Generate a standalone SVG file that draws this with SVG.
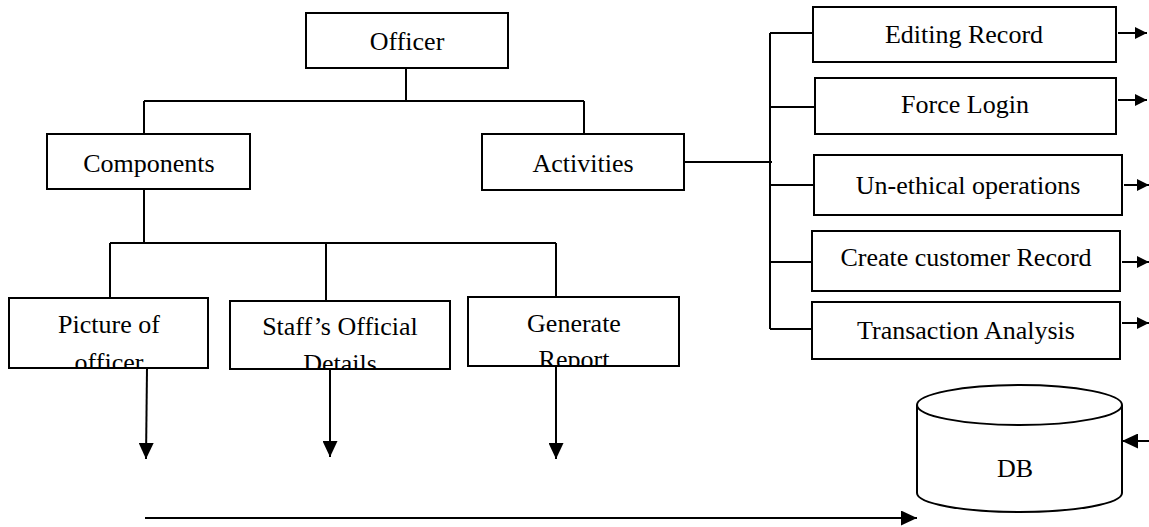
<svg xmlns="http://www.w3.org/2000/svg" width="1149" height="527" viewBox="0 0 1149 527">
<style>
.box{fill:#fff;stroke:#000;stroke-width:2}
.t{font-family:"Liberation Serif","Times New Roman",serif;font-size:26px;fill:#000;text-anchor:middle}
.c{fill:none;stroke:#000;stroke-width:2}
</style>
<defs>
<marker id="aL" markerWidth="16" markerHeight="15" refX="16" refY="7.5" orient="auto" markerUnits="userSpaceOnUse"><path d="M0,0 L16,7.5 L0,15 z" fill="#000"/></marker>
<marker id="aS" markerWidth="12" markerHeight="12" refX="12" refY="6" orient="auto" markerUnits="userSpaceOnUse"><path d="M0,0 L12,6 L0,12 z" fill="#000"/></marker>
<clipPath id="cp1"><rect x="10" y="299" width="197" height="68"/></clipPath>
<clipPath id="cp2"><rect x="231" y="302" width="218" height="66"/></clipPath>
<clipPath id="cp3"><rect x="469" y="298" width="209" height="67"/></clipPath>
</defs>
<g id="connectors">
<path class="c" d="M406,67 V101 M144,101 H584 M144,101 V134 M584,101 V134"/>
<path class="c" d="M144,189 V243 M110,243 H556 M110,243 V298 M326,243 V301 M556,243 V297"/>
<path class="c" d="M684,162 H772 M770,33 V329 M770,33 H813 M770,107 H815 M770,185 H814 M770,262 H812 M770,329 H812"/>
<path class="c" d="M1118,33 H1147" marker-end="url(#aS)"/>
<path class="c" d="M1118,100 H1147" marker-end="url(#aS)"/>
<path class="c" d="M1124,185 H1149" marker-end="url(#aS)"/>
<path class="c" d="M1122,262 H1149" marker-end="url(#aS)"/>
<path class="c" d="M1122,323 H1149" marker-end="url(#aS)"/>
<path class="c" d="M147,368 L146,459" marker-end="url(#aL)"/>
<path class="c" d="M330,370 V457" marker-end="url(#aL)"/>
<path class="c" d="M556,366 V459" marker-end="url(#aL)"/>
<path class="c" d="M145,518 H917" marker-end="url(#aL)"/>
<path class="c" d="M1149,441 H1122" marker-end="url(#aL)"/>
</g>
<g id="officer"><rect class="box" x="306" y="13" width="202" height="55"/><text class="t" x="407" y="50">Officer</text></g>
<g id="components"><rect class="box" x="47" y="134" width="203" height="55"/><text class="t" x="149" y="172">Components</text></g>
<g id="activities"><rect class="box" x="482" y="134" width="202" height="56"/><text class="t" x="583" y="172">Activities</text></g>
<g id="picture"><rect class="box" x="9" y="298" width="199" height="70"/><g clip-path="url(#cp1)"><text class="t" x="109" y="333">Picture of</text><text class="t" x="109" y="371">officer</text></g></g>
<g id="staff"><rect class="box" x="230" y="301" width="220" height="68"/><g clip-path="url(#cp2)"><text class="t" x="340" y="335">Staff’s Official</text><text class="t" x="340" y="372">Details</text></g></g>
<g id="generate"><rect class="box" x="468" y="297" width="211" height="69"/><g clip-path="url(#cp3)"><text class="t" x="574" y="332">Generate</text><text class="t" x="574" y="368">Report</text></g></g>
<g id="editing"><rect class="box" x="813" y="7" width="303" height="55"/><text class="t" x="964" y="43">Editing Record</text></g>
<g id="force"><rect class="box" x="815" y="78" width="301" height="56"/><text class="t" x="965" y="113">Force Login</text></g>
<g id="unethical"><rect class="box" x="814" y="155" width="308" height="60"/><text class="t" x="968" y="194">Un-ethical operations</text></g>
<g id="create"><rect class="box" x="812" y="231" width="308" height="60"/><text class="t" x="966" y="266">Create customer Record</text></g>
<g id="transaction"><rect class="box" x="812" y="302" width="308" height="57"/><text class="t" x="966" y="339">Transaction Analysis</text></g>
<g id="db">
<path class="box" d="M917,405 V493 A102.5,19 0 0 0 1122,493 V405"/>
<ellipse class="box" cx="1019.5" cy="405" rx="102.5" ry="20"/>
<text class="t" x="1015" y="477">DB</text>
</g>
</svg>
